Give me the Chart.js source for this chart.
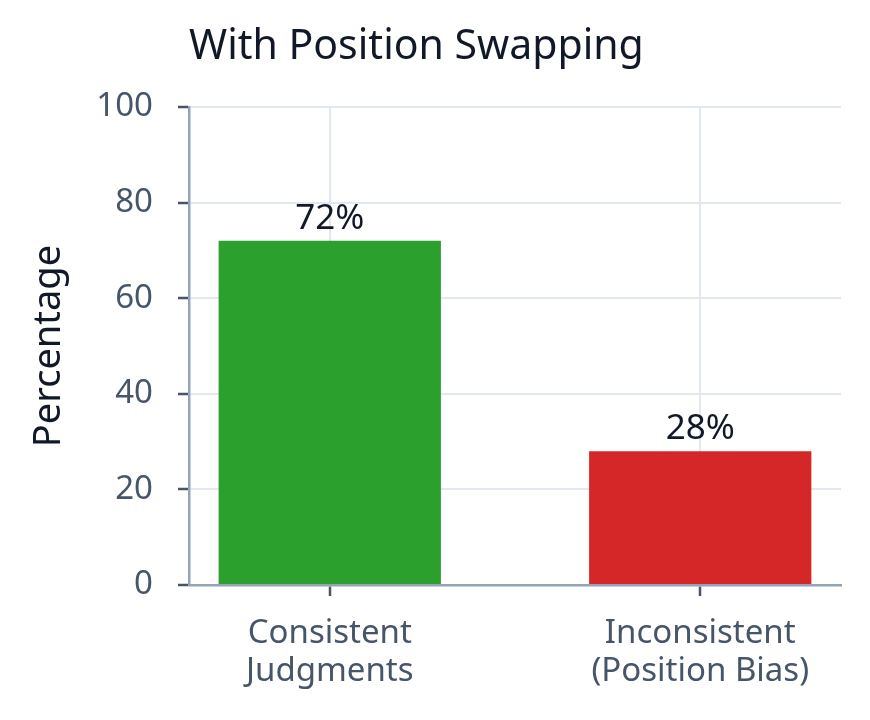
<!DOCTYPE html>
<html>
<head>
<meta charset="utf-8">
<title>With Position Swapping</title>
<script src="https://cdn.jsdelivr.net/npm/chart.js@4.4.1/dist/chart.umd.min.js"></script>
<style>
  html, body { margin: 0; padding: 0; background: #ffffff; }
  #wrap { width: 870px; height: 720px; }
</style>
</head>
<body>
<div id="wrap"><canvas id="swapChart" width="870" height="720"></canvas></div>
<script>
const categories = [['Consistent', 'Judgments'], ['Inconsistent', '(Position Bias)']];
const percentages = [72, 28];
const barColors = ['#2ca02c', '#d62728'];
const yTicks = [0, 20, 40, 60, 80, 100];

const FONT = '"Noto Sans", "Open Sans", sans-serif';
const TICK_TEXT = '#475569';
const DARK_TEXT = '#111827';

// draws "72%" etc. above each bar
const barValueLabels = {
  id: 'barValueLabels',
  afterDatasetsDraw(chart) {
    const ctx = chart.ctx;
    const meta = chart.getDatasetMeta(0);
    ctx.save();
    ctx.font = '35px ' + FONT;
    ctx.fillStyle = DARK_TEXT;
    ctx.textAlign = 'center';
    ctx.textBaseline = 'alphabetic';
    meta.data.forEach((bar, i) => {
      ctx.fillText(percentages[i] + '%', bar.x, bar.y - 12);
    });
    ctx.restore();
  }
};

const ctx = document.getElementById('swapChart').getContext('2d');
new Chart(ctx, {
  type: 'bar',
  data: {
    datasets: [{
      label: 'Percentage',
      data: percentages.map((v, i) => ({ x: i, y: v })),
      backgroundColor: barColors,
      borderWidth: 0,
      barPercentage: 0.6,
      categoryPercentage: 1.0
    }]
  },
  options: {
    responsive: false,
    animation: false,
    layout: {
      padding: { left: 0, right: 29, top: 0, bottom: 0 }
    },
    plugins: {
      legend: { display: false },
      tooltip: { enabled: false },
      title: {
        display: true,
        text: 'With Position Swapping',
        align: 'start',
        fullSize: false,
        color: DARK_TEXT,
        font: { family: FONT, size: 41, weight: 'normal' },
        padding: { top: 23, bottom: 34.8 }
      }
    },
    scales: {
      x: {
        type: 'linear',
        min: -0.38,
        max: 1.38,
        offset: false,
        grid: {
          offset: false,
          color: '#e2e8f0',
          lineWidth: 2,
          tickColor: '#475569',
          tickWidth: 2.5,
          tickLength: 11
        },
        border: { color: '#94a3b8', width: 2.5 },
        afterBuildTicks(scale) { scale.ticks = categories.map((c, i) => ({ value: i })); },
        ticks: {
          color: TICK_TEXT,
          padding: 19,
          maxRotation: 0,
          autoSkip: false,
          font: { family: FONT, size: 33, lineHeight: '38px' },
          callback: (value) => categories[value]
        },
        afterFit(scale) { scale.height = 135; }
      },
      y: {
        min: 0,
        max: 100,
        afterBuildTicks(scale) { scale.ticks = yTicks.map(v => ({ value: v })); },
        grid: {
          color: '#e2e8f0',
          lineWidth: 2,
          tickColor: '#475569',
          tickWidth: 2.5,
          tickLength: 11
        },
        border: { color: '#94a3b8', width: 2.5 },
        ticks: {
          color: TICK_TEXT,
          padding: 25,
          font: { family: FONT, size: 33 }
        },
        title: {
          display: true,
          text: 'Percentage',
          color: DARK_TEXT,
          font: { family: FONT, size: 38 },
          padding: { top: 26, bottom: 0 }
        },
        afterFit(scale) { scale.width = 189; }
      }
    }
  },
  plugins: [barValueLabels]
});
</script>
</body>
</html>
